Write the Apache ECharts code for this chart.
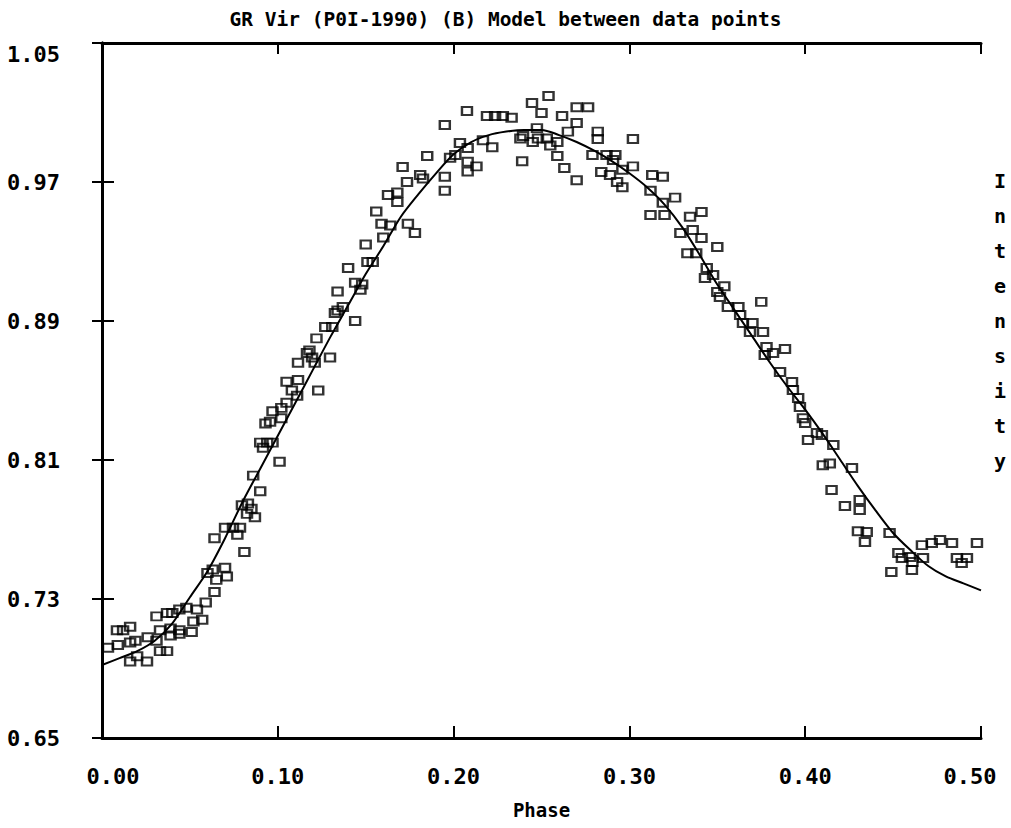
<!DOCTYPE html>
<html>
<head>
<meta charset="utf-8">
<script src="https://cdn.jsdelivr.net/npm/echarts@6/dist/echarts.min.js"></script>
<style>
  html, body { margin: 0; padding: 0; background: #fff; }
  #chart { width: 1011px; height: 828px; }
</style>
</head>
<body>
<div id="chart"></div>
<script>
const phaseTicks = [0, 0.1, 0.2, 0.3, 0.4, 0.5];
const intensityTicks = [0.65, 0.73, 0.81, 0.89, 0.97, 1.05];

// model light curve, phase step 0.01
const modelPhase = [
  0.00, 0.01, 0.02, 0.03, 0.04, 0.05, 0.06, 0.07, 0.08, 0.09,
  0.10, 0.11, 0.12, 0.13, 0.14, 0.15, 0.16, 0.17, 0.18, 0.19,
  0.20, 0.21, 0.22, 0.23, 0.24, 0.25, 0.26, 0.27, 0.28, 0.29,
  0.30, 0.31, 0.32, 0.33, 0.34, 0.35, 0.36, 0.37, 0.38, 0.39,
  0.40, 0.41, 0.42, 0.43, 0.44, 0.45, 0.46, 0.47, 0.48, 0.49, 0.50
];
const modelIntensity = [
  0.692, 0.696, 0.700, 0.706, 0.716, 0.731, 0.746, 0.765, 0.786, 0.805,
  0.824, 0.843, 0.862, 0.881, 0.899, 0.917, 0.933, 0.950, 0.963, 0.975,
  0.986, 0.993, 0.997, 0.999, 1.000, 1.000, 0.997, 0.993, 0.988, 0.982,
  0.975, 0.967, 0.957, 0.944, 0.928, 0.911, 0.896, 0.881, 0.866, 0.852,
  0.839, 0.825, 0.810, 0.795, 0.781, 0.768, 0.758, 0.749, 0.743, 0.739, 0.735
];

// observed points [phase, intensity]
const obsPoints = [
  [0.0085, 0.712], [0.012, 0.712], [0.016, 0.714], [0.0034, 0.702], [0.009, 0.7035],
  [0.016, 0.705], [0.019, 0.706], [0.016, 0.694], [0.0256, 0.694], [0.020, 0.697],
  [0.026, 0.708], [0.031, 0.706], [0.031, 0.720], [0.037, 0.722], [0.040, 0.722],
  [0.044, 0.724], [0.048, 0.725], [0.033, 0.700], [0.037, 0.700], [0.033, 0.712],
  [0.039, 0.713], [0.044, 0.712], [0.051, 0.711], [0.039, 0.709], [0.044, 0.710],
  [0.052, 0.717], [0.057, 0.718], [0.054, 0.724], [0.059, 0.728], [0.064, 0.734],
  [0.060, 0.745], [0.063, 0.747], [0.070, 0.748], [0.071, 0.743], [0.065, 0.741],
  [0.081, 0.757],
  [0.097, 0.838], [0.102, 0.840], [0.105, 0.843], [0.0956, 0.832], [0.093, 0.831],
  [0.090, 0.820], [0.094, 0.820], [0.097, 0.820], [0.0916, 0.817], [0.101, 0.809],
  [0.086, 0.801], [0.090, 0.792], [0.0796, 0.784], [0.083, 0.785], [0.085, 0.782],
  [0.0825, 0.779], [0.087, 0.777], [0.070, 0.771], [0.0745, 0.771], [0.0785, 0.771],
  [0.077, 0.767], [0.064, 0.765], [0.105, 0.855], [0.108, 0.850], [0.111, 0.847],
  [0.151, 0.924], [0.154, 0.924], [0.140, 0.9205], [0.144, 0.912], [0.148, 0.911],
  [0.147, 0.908], [0.134, 0.907], [0.137, 0.898], [0.134, 0.896], [0.1325, 0.8946],
  [0.144, 0.890], [0.127, 0.8865], [0.131, 0.8865], [0.122, 0.880], [0.118, 0.873],
  [0.1166, 0.8716], [0.1195, 0.869], [0.121, 0.866], [0.1115, 0.866], [0.1297, 0.869],
  [0.1115, 0.856], [0.123, 0.850], [0.102, 0.834],
  [0.195, 1.0028], [0.2076, 1.0109], [0.219, 1.008], [0.2236, 1.008], [0.228, 1.008],
  [0.233, 1.007], [0.2446, 1.0155], [0.254, 1.0195], [0.250, 1.0097], [0.2617, 1.008],
  [0.270, 1.013], [0.2765, 1.013], [0.270, 1.004], [0.282, 0.999], [0.282, 0.9947],
  [0.302, 0.9947], [0.265, 0.999], [0.2474, 1.001], [0.248, 0.995], [0.253, 0.995],
  [0.259, 0.993], [0.245, 0.993], [0.255, 0.991], [0.259, 0.985], [0.238, 0.995],
  [0.2395, 0.9965], [0.222, 0.990], [0.239, 0.982], [0.263, 0.978], [0.270, 0.971],
  [0.2036, 0.9924], [0.201, 0.9855], [0.198, 0.984], [0.208, 0.9896], [0.2167, 0.994],
  [0.208, 0.9816], [0.213, 0.979], [0.208, 0.976], [0.195, 0.973], [0.195, 0.965],
  [0.185, 0.985], [0.171, 0.9786], [0.1735, 0.970], [0.168, 0.964], [0.1627, 0.9625],
  [0.168, 0.9585], [0.181, 0.974], [0.1826, 0.972], [0.156, 0.953], [0.159, 0.946],
  [0.164, 0.945], [0.160, 0.938], [0.174, 0.946], [0.178, 0.9406], [0.150, 0.934],
  [0.279, 0.9855], [0.287, 0.9855], [0.292, 0.9855], [0.2907, 0.9827], [0.284, 0.9758],
  [0.289, 0.974], [0.296, 0.977], [0.302, 0.979], [0.293, 0.970], [0.296, 0.967],
  [0.313, 0.974], [0.319, 0.973], [0.312, 0.965], [0.319, 0.958], [0.326, 0.961],
  [0.312, 0.951], [0.320, 0.951], [0.329, 0.9406], [0.336, 0.9424], [0.3345, 0.950],
  [0.333, 0.929], [0.338, 0.929],
  [0.341, 0.9527], [0.341, 0.9378], [0.350, 0.9326], [0.344, 0.9205], [0.3476, 0.9165],
  [0.343, 0.9147], [0.354, 0.910], [0.3515, 0.9038], [0.350, 0.9067], [0.375, 0.901],
  [0.356, 0.898], [0.362, 0.898], [0.363, 0.8935], [0.3646, 0.8888], [0.370, 0.8888],
  [0.376, 0.8837], [0.3686, 0.8837], [0.378, 0.875], [0.3885, 0.8739], [0.3817, 0.8716],
  [0.377, 0.8704], [0.3857, 0.8606], [0.3925, 0.8549], [0.393, 0.8503], [0.396, 0.8457],
  [0.397, 0.8405], [0.3987, 0.834], [0.400, 0.8313], [0.4016, 0.8215], [0.4067, 0.8255],
  [0.4095, 0.8244], [0.416, 0.8186], [0.410, 0.807], [0.414, 0.808], [0.4266, 0.8054],
  [0.415, 0.7927],
  [0.4226, 0.7835], [0.431, 0.787], [0.431, 0.7812], [0.430, 0.769], [0.435, 0.7686],
  [0.434, 0.7628], [0.448, 0.768], [0.453, 0.7565], [0.455, 0.7536], [0.4596, 0.7542],
  [0.461, 0.7513], [0.467, 0.7536], [0.4607, 0.7467], [0.449, 0.7455], [0.4664, 0.761],
  [0.472, 0.7622], [0.4767, 0.764], [0.4835, 0.7622], [0.4863, 0.7536], [0.492, 0.7536],
  [0.489, 0.7507], [0.4977, 0.7622]
];

const FONT = "'DejaVu Sans Mono', 'Liberation Mono', monospace";

const chart = echarts.init(document.getElementById('chart'), null, { renderer: 'svg' });

const option = {
  backgroundColor: '#fff',
  animation: false,
  title: {
    text: 'GR Vir (P0I-1990) (B) Model between data points',
    left: 'center',
    top: 4,
    textStyle: { fontFamily: FONT, fontWeight: 'bold', fontSize: 19.5, color: '#000' }
  },
  grid: { left: 102, right: 30, top: 43, bottom: 90, outerBoundsMode: 'none' },
  xAxis: [
    {
      type: 'value',
      min: 0,
      max: 0.5,
      name: 'Phase',
      nameLocation: 'middle',
      nameGap: 62,
      nameTextStyle: { fontFamily: FONT, fontWeight: 'bold', fontSize: 19, color: '#000' },
      axisLine: { lineStyle: { color: '#000', width: 3 } },
      axisTick: { inside: true, length: 12, customValues: phaseTicks, lineStyle: { color: '#000', width: 2 } },
      axisLabel: {
        customValues: phaseTicks,
        margin: 27,
        formatter: v => {
          const s = v.toFixed(2);
          if (v === 0) return '{l|' + s + '}';
          if (v === 0.5) return '{r|' + s + '}';
          return s;
        },
        fontFamily: FONT, fontWeight: 'bold', fontSize: 22, color: '#000',
        rich: {
          l: { fontFamily: FONT, fontWeight: 'bold', fontSize: 22, color: '#000', padding: [0, 0, 0, 22] },
          r: { fontFamily: FONT, fontWeight: 'bold', fontSize: 22, color: '#000', padding: [0, 22, 0, 0] }
        }
      },
      splitLine: { show: false }
    },
    {
      type: 'value',
      position: 'top',
      min: 0,
      max: 0.5,
      axisLine: { lineStyle: { color: '#000', width: 3 } },
      axisTick: { inside: true, length: 11, customValues: phaseTicks, lineStyle: { color: '#000', width: 2 } },
      axisLabel: { show: false },
      splitLine: { show: false }
    }
  ],
  yAxis: [
    {
      type: 'value',
      min: 0.65,
      max: 1.05,
      axisLine: { lineStyle: { color: '#000', width: 3 } },
      axisTick: { inside: true, length: 12, customValues: intensityTicks, lineStyle: { color: '#000', width: 2 } },
      axisLabel: {
        customValues: intensityTicks,
        margin: 42,
        align: 'right',
        formatter: v => {
          const s = v.toFixed(2);
          return Math.abs(v - 1.05) < 1e-6 ? '{t|' + s + '}' : s;
        },
        fontFamily: FONT, fontWeight: 'bold', fontSize: 22, color: '#000',
        rich: {
          t: { fontFamily: FONT, fontWeight: 'bold', fontSize: 22, color: '#000', padding: [22, 0, 0, 0] }
        }
      },
      splitLine: { show: false }
    },
    {
      type: 'value',
      position: 'right',
      min: 0.65,
      max: 1.05,
      axisLine: { lineStyle: { color: '#000', width: 3 } },
      axisTick: { inside: true, length: 10, customValues: intensityTicks, lineStyle: { color: '#000', width: 2 } },
      axisLabel: { show: false },
      splitLine: { show: false }
    }
  ],
  graphic: [
    {
      type: 'text',
      left: 994,
      top: 163,
      style: {
        text: 'I\nn\nt\ne\nn\ns\ni\nt\ny',
        font: 'bold 20px ' + FONT,
        fill: '#000',
        lineHeight: 35,
        textAlign: 'left'
      }
    }
  ],
  series: [
    {
      name: 'Model',
      type: 'line',
      data: modelPhase.map((p, i) => [p, modelIntensity[i]]),
      smooth: 0.3,
      showSymbol: false,
      symbol: 'none',
      lineStyle: { color: '#000', width: 2 },
      z: 2
    },
    {
      name: 'Observed',
      type: 'scatter',
      data: obsPoints,
      symbol: 'rect',
      symbolSize: [10, 8],
      itemStyle: { color: 'rgba(255,255,255,0)', borderColor: '#000', borderWidth: 2.2 },
      z: 3
    }
  ]
};

chart.setOption(option);
</script>
</body>
</html>
